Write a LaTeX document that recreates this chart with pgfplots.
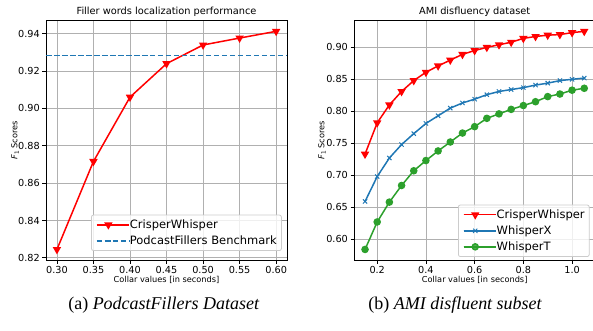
\documentclass[border=0pt]{standalone}
\usepackage{fontspec}
\setmainfont{DejaVu Sans}
\newfontfamily\capfont{Liberation Serif}
\usepackage{pgfplots}
\pgfplotsset{compat=1.18}
\definecolor{tabblue}{HTML}{1F77B4}
\definecolor{tabgreen}{HTML}{2CA02C}
\definecolor{gridc}{HTML}{B0B0B0}
\definecolor{legedge}{HTML}{CCCCCC}

\pgfplotstableread{
x crisper whisperx whispert
0.15 0.733 0.659 0.584
0.20 0.782 0.698 0.627
0.25 0.810 0.727 0.658
0.30 0.831 0.748 0.684
0.35 0.848 0.765 0.707
0.40 0.861 0.781 0.723
0.45 0.871 0.793 0.738
0.50 0.880 0.805 0.752
0.55 0.889 0.813 0.766
0.60 0.895 0.819 0.776
0.65 0.900 0.826 0.789
0.70 0.904 0.831 0.796
0.75 0.908 0.834 0.803
0.80 0.914 0.837 0.809
0.85 0.917 0.841 0.815
0.90 0.919 0.844 0.823
0.95 0.920 0.848 0.827
1.00 0.923 0.850 0.833
1.05 0.925 0.852 0.836
}\amitable

\pgfplotstableread{
x crisper
0.30 0.8245
0.35 0.8716
0.40 0.9060
0.45 0.9239
0.50 0.9339
0.55 0.9376
0.60 0.9412
}\podtable

\pgfplotsset{mystyle/.style={
  scale only axis, height=240pt, anchor=south west,
  axis line style={black, line width=0.8pt},
  grid=major, grid style={gridc, line width=0.8pt},
  tick align=outside, major tick length=3.5pt,
  tick style={black, line width=0.8pt},
  xtick pos=left, ytick pos=left,
  ticklabel style={font=\fontsize{9.7}{11}\selectfont},
  xticklabel style={inner sep=2.5pt},
  yticklabel style={inner sep=2.5pt},
  /pgf/number format/assume math mode=true,
  /pgf/number format/fixed, /pgf/number format/fixed zerofill,
  legend cell align=left,
  legend style={draw=legedge, line width=0.8pt, fill=white, fill opacity=0.8, text opacity=1,
    rounded corners=2pt, font=\fontsize{11.5}{13}\selectfont,
    inner xsep=4.6pt, inner ysep=4.6pt, row sep=5.75pt,
    nodes={inner sep=0pt, text height=8.5pt, text depth=1.8pt}},
  legend image code/.code={
    \draw[mark repeat=2,mark phase=2,##1] plot coordinates {(0pt,0pt) (11.5pt,0pt) (23pt,0pt)};
    \path (0pt,0pt) -- (32.2pt,0pt);
  },
}}
\newcommand\lab{\fontsize{8.2}{10}\selectfont}
\newcommand\ttl{\fontsize{9.8}{11}\selectfont}

\begin{document}
\begin{tikzpicture}
\path (0pt,0pt) rectangle (593pt,331pt);

\begin{axis}[mystyle, width=241.3pt, at={(46pt,70.5pt)},
  xmin=0.285, xmax=0.615, ymin=0.8187, ymax=0.9470,
  xtick={0.30,0.35,...,0.61}, ytick={0.82,0.84,...,0.941},
  xticklabel style={/pgf/number format/precision=2},
  yticklabel style={/pgf/number format/precision=2},
  legend style={at={(0.978,0.039)}, anchor=south east},
]
\addplot[red, line width=1.5pt, mark=triangle*, mark size=3.4pt, mark options={rotate=180, solid}] table[x=x, y=crisper] {\podtable};
\addlegendentry{CrisperWhisper}
\addplot[tabblue, line width=1.6pt, dash pattern=on 5.6pt off 2.4pt] coordinates {(0.285,0.9283) (0.615,0.9283)};
\addlegendentry{PodcastFillers Benchmark}
\end{axis}

\begin{axis}[mystyle, width=238.7pt, at={(354.3pt,70.5pt)}, axis y line*=left,
  xmin=0.105, xmax=1.0843, ymin=0.567, ymax=0.942,
  xtick={0.2,0.4,...,1.01}, ytick={0.60,0.65,...,0.91},
  xticklabel style={/pgf/number format/precision=1},
  yticklabel style={/pgf/number format/precision=2},
  legend style={at={(1,0.014)}, anchor=south east, xshift=-3pt},
]
\addplot[red, line width=1.5pt, mark=triangle*, mark size=3.4pt, mark options={rotate=180, solid}] table[x=x, y=crisper] {\amitable};
\addlegendentry{CrisperWhisper}
\addplot[tabblue, line width=1.5pt, mark=x, mark size=3pt, mark options={line width=1pt}] table[x=x, y=whisperx] {\amitable};
\addlegendentry{WhisperX}
\addplot[tabgreen, line width=1.5pt, mark=*, mark size=3pt] table[x=x, y=whispert] {\amitable};
\addlegendentry{WhisperT}
\end{axis}

% titles and axis labels
\node[anchor=base, font=\ttl, inner sep=0pt] at (166.6pt,316.5pt) {Filler words localization performance};
\node[anchor=base, font=\ttl, inner sep=0pt] at (475pt,316.5pt) {AMI disfluency dataset};
\node[anchor=base, font=\lab, inner sep=0pt] at (166.6pt,48.5pt) {Collar values [in seconds]};
\node[anchor=base, font=\lab, inner sep=0pt] at (475pt,48.5pt) {Collar values [in seconds]};
\node[anchor=base, font=\lab, inner sep=0pt, rotate=90] at (17.5pt,190.5pt) {\textit{F}\textsubscript{1} Scores};
\node[anchor=base, font=\lab, inner sep=0pt, rotate=90] at (324.5pt,190.5pt) {\textit{F}\textsubscript{1} Scores};

\node[anchor=base, font=\capfont\fontsize{18}{20}\selectfont, inner sep=0pt] at (164pt,21pt) {(a) \textit{PodcastFillers Dataset}};
\node[anchor=base, font=\capfont\fontsize{18}{20}\selectfont, inner sep=0pt] at (455.5pt,21pt) {(b) \textit{AMI disfluent subset}};
\end{tikzpicture}
\end{document}
